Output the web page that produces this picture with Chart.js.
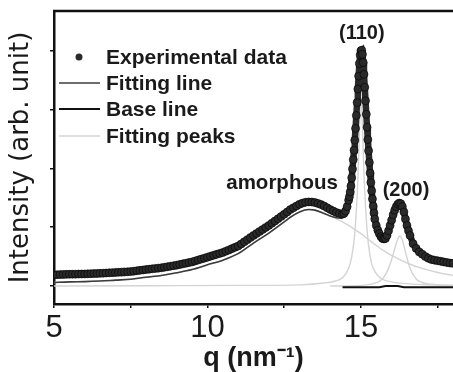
<!DOCTYPE html>
<html>
<head>
<meta charset="utf-8">
<script src="https://cdn.jsdelivr.net/npm/chart.js@4.4.1/dist/chart.umd.min.js"></script>
<style>
html,body{margin:0;padding:0;background:#fff;}
#wrap{width:453px;height:372px;}
</style>
</head>
<body>
<div id="wrap"><canvas id="c" width="453" height="372"></canvas></div>
<script>
// ---- data ----
const qExp = [
  5.0,5.1,5.2,5.3,5.4,5.5,5.6,5.7,5.8,5.9,
  6.0,6.1,6.2,6.3,6.4,6.5,6.6,6.7,6.8,6.9,
  7.0,7.1,7.2,7.3,7.4,7.5,7.6,7.7,7.8,7.9,
  8.0,8.1,8.2,8.3,8.4,8.5,8.6,8.7,8.8,8.9,
  9.0,9.1,9.2,9.3,9.4,9.5,9.6,9.7,9.8,9.9,
  10.0,10.1,10.2,10.3,10.4,10.5,10.6,10.7,10.8,10.9,
  11.0,11.1,11.2,11.3,11.4,11.5,11.6,11.7,11.8,11.9,
  12.0,12.1,12.2,12.3,12.4,12.5,12.6,12.7,12.8,12.9,
  13.0,13.1,13.2,13.3,13.4,13.5,13.6,13.7,13.8,13.9,
  14.0,14.1,14.2,14.3,14.4,14.45,14.5,14.55,
  14.6,14.625,14.65,14.675,14.7,14.725,14.75,14.775,14.8,14.825,
  14.85,14.875,14.9,14.925,14.95,14.975,15.0,15.025,15.05,15.075,
  15.1,15.125,15.15,15.175,15.2,15.225,15.25,15.275,15.3,15.325,
  15.35,15.375,15.4,15.425,15.45,
  15.5,15.55,15.6,15.65,15.7,15.75,15.8,15.85,15.9,15.95,
  16.0,16.05,16.1,16.15,16.2,16.25,16.3,16.35,16.4,16.45,
  16.5,16.55,16.6,
  16.7,16.8,16.9,17.0,17.1,17.2,17.3,17.4,17.5,17.6,17.7,17.8,17.9,18.0
];
const intExp = [
  0.190,0.192,0.194,0.196,0.198,0.200,0.201,0.202,0.203,0.204,
  0.205,0.207,0.209,0.211,0.213,0.215,0.218,0.221,0.224,0.227,
  0.230,0.233,0.236,0.239,0.242,0.245,0.252,0.259,0.266,0.273,
  0.280,0.286,0.292,0.298,0.304,0.310,0.319,0.328,0.337,0.346,
  0.355,0.366,0.377,0.388,0.399,0.410,0.426,0.442,0.458,0.474,
  0.490,0.506,0.522,0.538,0.554,0.570,0.592,0.614,0.636,0.658,
  0.680,0.716,0.752,0.788,0.824,0.860,0.894,0.928,0.962,0.996,
  1.030,1.068,1.106,1.144,1.182,1.220,1.260,1.300,1.330,1.360,
  1.390,1.410,1.425,1.430,1.428,1.420,1.405,1.385,1.360,1.330,
  1.300,1.275,1.250,1.232,1.222,1.235,1.275,1.350,
  1.46,1.52,1.60,1.70,1.84,1.99,2.15,2.31,2.48,2.68,
  2.90,3.12,3.35,3.57,3.78,3.93,4.00,4.01,3.94,3.80,
  3.60,3.38,3.15,2.92,2.70,2.49,2.30,2.10,1.92,1.76,
  1.62,1.48,1.36,1.24,1.14,
  1.03,0.95,0.89,0.84,0.81,0.80,0.81,0.86,0.94,1.03,
  1.12,1.21,1.29,1.35,1.39,1.41,1.40,1.35,1.26,1.14,
  1.03,0.94,0.86,
  0.72,0.64,0.58,0.54,0.50,0.47,0.45,0.44,0.43,0.42,0.41,0.40,0.39,0.385
];
const qFit   = [5,5.5,6,6.5,7,7.5,8,8.5,9,9.5,10,10.5,11,11.5,12,12.5,12.7,13,13.3,13.5,13.8,14.0,14.2,14.4];
const intFit = [0.06,0.07,0.075,0.085,0.10,0.115,0.15,0.18,0.225,0.28,0.36,0.44,0.55,0.73,0.90,1.09,1.17,1.26,1.30,1.29,1.235,1.19,1.16,1.15];
const qAmor   = [5,5.5,6,6.5,7,7.5,8,8.5,9,9.5,10,10.5,11,11.5,12,12.5,12.7,13,13.3,13.5,13.8,14.0,14.2,14.4,14.6,14.8,15.0,15.2,15.4,15.6,15.8,16.0,16.3,16.6,17.0,17.5,18.0];
const intAmor = [0.06,0.07,0.075,0.085,0.10,0.115,0.15,0.18,0.225,0.28,0.36,0.44,0.55,0.73,0.90,1.09,1.17,1.26,1.30,1.29,1.235,1.19,1.14,1.09,1.03,0.96,0.89,0.81,0.73,0.65,0.58,0.52,0.44,0.37,0.30,0.23,0.18];
const q110   = [5,8,11,13,13.8,14.2,14.4,14.6,14.7,14.8,14.9,14.95,15.0,15.05,15.1,15.2,15.3,15.4,15.6,16.0,16.5,17.0,18.0];
const int110 = [0.0,0.005,0.01,0.02,0.05,0.09,0.14,0.30,0.50,0.90,1.80,2.60,3.20,2.70,1.90,0.95,0.50,0.30,0.15,0.07,0.04,0.025,0.01];
const q200   = [14.0,15.0,15.4,15.7,15.9,16.0,16.1,16.2,16.27,16.35,16.45,16.6,16.8,17.0,17.5,18.0];
const int200 = [0.0,0.01,0.04,0.12,0.30,0.45,0.63,0.80,0.85,0.78,0.58,0.30,0.12,0.06,0.02,0.01];
const qBase   = [14.4,15.6,15.8,16.2,16.4,18.0];
const intBase = [-0.02,-0.02,0.0,0.0,-0.02,-0.02];
const xTickLabels = ['5','10','15'];
const legendLabels = ['Experimental data','Fitting line','Base line','Fitting peaks'];
const notes = [
  {text:'(110)', q:15.03, v:4.30, size:20},
  {text:'amorphous', q:12.43, v:1.75, size:20.5},
  {text:'(200)', q:16.47, v:1.62, size:20}
];

const pts = (xs, ys) => xs.map((x, i) => ({x: x, y: ys[i]}));

const C_DATA = '#2a2a2a', C_FIT = '#3c3c3c', C_BASE = '#111111', C_PEAK = '#d4d4d4';

const topBorder = {
  id: 'topBorder',
  afterDraw(chart) {
    const {ctx, chartArea} = chart;
    ctx.save();
    ctx.strokeStyle = '#111';
    ctx.lineWidth = 2.5;
    ctx.beginPath();
    ctx.moveTo(chartArea.left - 1, chartArea.top);
    ctx.lineTo(chart.width, chartArea.top);
    ctx.stroke();
    ctx.restore();
  }
};

const annot = {
  id: 'annot',
  afterDatasetsDraw(chart) {
    const {ctx, scales} = chart;
    ctx.save();
    ctx.fillStyle = '#1a1a1a';
    ctx.textAlign = 'center';
    ctx.textBaseline = 'middle';
    notes.forEach(n => {
      ctx.font = 'bold ' + n.size + 'px "Liberation Sans", Arial, sans-serif';
      ctx.fillText(n.text, scales.x.getPixelForValue(n.q), scales.y.getPixelForValue(n.v));
    });
    // legend
    const L = chart.chartArea.left;
    const T = chart.chartArea.top;
    const rows = [T + 46, T + 72, T + 98, T + 125];
    ctx.textAlign = 'left';
    ctx.font = 'bold 21px "Liberation Sans", Arial, sans-serif';
    legendLabels.forEach((lab, i) => {
      const y = rows[i];
      if (i === 0) {
        ctx.fillStyle = C_DATA;
        ctx.beginPath();
        ctx.arc(L + 25, y, 3.5, 0, Math.PI * 2);
        ctx.fill();
      } else {
        ctx.strokeStyle = i === 1 ? C_FIT : (i === 2 ? C_BASE : C_PEAK);
        ctx.lineWidth = i === 2 ? 2.2 : 1.6;
        ctx.beginPath();
        ctx.moveTo(L + 5, y);
        ctx.lineTo(L + 46, y);
        ctx.stroke();
      }
      ctx.fillStyle = '#1a1a1a';
      ctx.fillText(lab, L + 52, y + 1);
    });
    ctx.restore();
  }
};

new Chart(document.getElementById('c'), {
  type: 'scatter',
  data: {
    datasets: [
      {label: legendLabels[0], data: pts(qExp, intExp), showLine: true, borderColor: C_DATA, borderWidth: 6.5,
       pointRadius: 4, pointBackgroundColor: C_DATA, pointBorderColor: '#000', pointBorderWidth: 0.6, tension: 0, order: 0},
      {label: legendLabels[1], data: pts(qFit, intFit), showLine: true, borderColor: C_FIT, borderWidth: 1.6,
       pointRadius: 0, cubicInterpolationMode: 'monotone', order: 1},
      {label: legendLabels[2], data: pts(qBase, intBase), showLine: true, borderColor: C_BASE, borderWidth: 2,
       pointRadius: 0, order: 2},
      {label: legendLabels[3], data: pts(qAmor, intAmor), showLine: true, borderColor: C_PEAK, borderWidth: 1.4,
       pointRadius: 0, cubicInterpolationMode: 'monotone', order: 3},
      {label: 'peak110', data: pts(q110, int110), showLine: true, borderColor: C_PEAK, borderWidth: 1.4,
       pointRadius: 0, cubicInterpolationMode: 'monotone', order: 4},
      {label: 'peak200', data: pts(q200, int200), showLine: true, borderColor: C_PEAK, borderWidth: 1.4,
       pointRadius: 0, cubicInterpolationMode: 'monotone', order: 5}
    ]
  },
  options: {
    responsive: false,
    animation: false,
    devicePixelRatio: 1,
    layout: {autoPadding: false, padding: {top: 11, right: 0, left: 0, bottom: 0}},
    plugins: {legend: {display: false}, tooltip: {enabled: false}},
    scales: {
      x: {
        type: 'linear', min: 5, max: 18,
        afterFit(s) { s.height = 68; },
        border: {display: true, color: '#111', width: 2.5},
        grid: {display: true, drawOnChartArea: false, drawTicks: true, tickLength: 4, color: '#111', lineWidth: 1.5},
        ticks: {
          stepSize: 2.5, includeBounds: false, autoSkip: false, maxRotation: 0, padding: 2,
          color: '#1a1a1a',
          font: {family: '"Liberation Sans Narrow", "Liberation Sans", Arial, sans-serif', size: 31},
          callback: (v) => xTickLabels.includes(String(v)) ? String(v) : ''
        },
        title: {display: true, text: 'q (nm⁻¹)', color: '#1a1a1a', padding: 0,
          font: {family: '"Liberation Sans", Arial, sans-serif', size: 27, weight: 'bold', lineHeight: 1}}
      },
      y: {
        type: 'linear', min: -0.306, max: 4.677,
        afterFit(s) { s.width = 54; },
        border: {display: true, color: '#111', width: 2.5},
        grid: {display: true, drawOnChartArea: false, drawTicks: true, tickLength: 4, color: '#111', lineWidth: 1.5},
        ticks: {stepSize: 1, includeBounds: false, callback: () => '', padding: 0},
        title: {display: true, text: 'Intensity (arb. unit)', color: '#1a1a1a', padding: {top: 6, bottom: 0},
          font: {family: '"DejaVu Sans", sans-serif', size: 26, lineHeight: 1.2}}
      }
    }
  },
  plugins: [topBorder, annot]
});
</script>
</body>
</html>
